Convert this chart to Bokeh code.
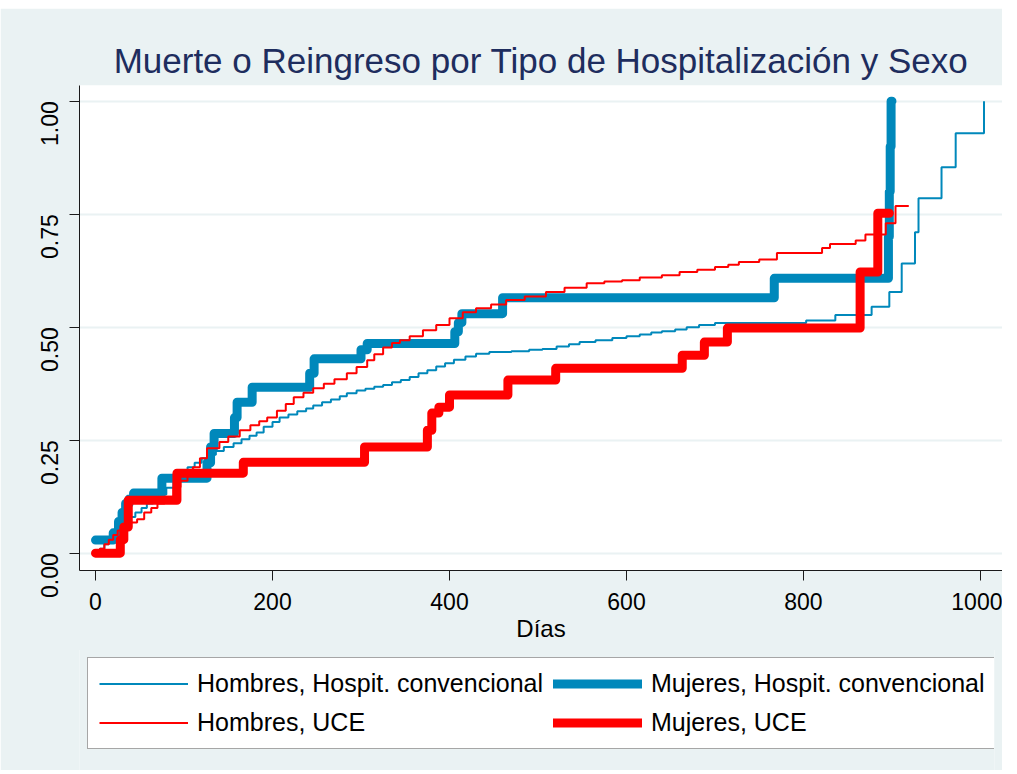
import math
from bokeh.plotting import figure
from bokeh.layouts import column
from bokeh.models import Range1d, FixedTicker, NumeralTickFormatter, Legend, LegendItem
from bokeh.embed import file_html
from bokeh.resources import INLINE

# ---------------- data ----------------
title_text = "Muerte o Reingreso por Tipo de Hospitalización y Sexo"
x_label = "Días"
x_ticks = [0, 200, 400, 600, 800, 1000]
y_ticks = [0.0, 0.25, 0.5, 0.75, 1.0]

labels = ["Hombres, Hospit. convencional", "Hombres, UCE",
          "Mujeres, Hospit. convencional", "Mujeres, UCE"]

# Hombres, Hospit. convencional (thin blue)
hhc_days = [0, 5, 10, 15, 20, 25, 30, 35, 40, 45, 52, 58, 65, 72, 80, 88, 96, 104,
            112, 120, 128, 136, 145, 156, 165, 174, 182, 190, 200, 208, 218, 228,
            238, 246, 256, 266, 276, 284, 295, 305, 315, 325, 335, 345, 355, 365,
            375, 385, 395, 405, 418, 430, 445, 470, 490, 505, 521, 535, 547, 565,
            584, 600, 615, 628, 640, 655, 668, 682, 700, 803, 836, 877, 897, 911,
            926, 930, 956, 972, 1004]
hhc_vals = [0.0, 0.01, 0.02, 0.03, 0.04, 0.05, 0.06, 0.07, 0.08, 0.09, 0.10, 0.11,
            0.12, 0.13, 0.145, 0.16, 0.175, 0.19, 0.20, 0.21, 0.218, 0.226, 0.235,
            0.243, 0.252, 0.26, 0.267, 0.28, 0.29, 0.30, 0.307, 0.314, 0.32, 0.327,
            0.334, 0.34, 0.347, 0.354, 0.36, 0.364, 0.368, 0.372, 0.378, 0.383,
            0.39, 0.398, 0.405, 0.413, 0.42, 0.428, 0.435, 0.441, 0.445, 0.447,
            0.45, 0.452, 0.457, 0.462, 0.467, 0.471, 0.476, 0.48, 0.484, 0.488,
            0.491, 0.495, 0.50, 0.505, 0.509, 0.515, 0.527, 0.545, 0.578, 0.641,
            0.71, 0.785, 0.854, 0.929, 1.0]

# Hombres, UCE (thin red)
huce_days = [0, 5, 10, 15, 20, 25, 32, 40, 47, 55, 63, 70, 78, 88, 96, 104, 110,
             118, 126, 140, 150, 163, 175, 185, 194, 205, 215, 224, 235, 246, 258,
             270, 284, 295, 307, 315, 325, 335, 344, 355, 370, 385, 400, 415, 430,
             447, 464, 485, 509, 530, 555, 575, 595, 615, 640, 660, 680, 700, 715,
             727, 750, 770, 821, 830, 859, 870, 893, 904, 919]
huce_vals = [0.0, 0.01, 0.02, 0.03, 0.04, 0.05, 0.06, 0.068, 0.075, 0.09, 0.10,
             0.11, 0.125, 0.146, 0.16, 0.178, 0.19, 0.21, 0.232, 0.246, 0.258,
             0.272, 0.283, 0.292, 0.30, 0.315, 0.33, 0.345, 0.355, 0.365, 0.375,
             0.385, 0.398, 0.412, 0.427, 0.44, 0.455, 0.465, 0.471, 0.48, 0.493,
             0.505, 0.52, 0.533, 0.542, 0.55, 0.56, 0.568, 0.578, 0.587, 0.597,
             0.601, 0.604, 0.61, 0.615, 0.622, 0.627, 0.633, 0.638, 0.644, 0.65,
             0.664, 0.675, 0.684, 0.692, 0.705, 0.73, 0.768, 0.768]

# Mujeres, Hospit. convencional (thick blue)
mhc_days = [0, 20, 26, 30, 34, 38, 43, 75, 126, 130, 134, 157, 160, 177, 242, 247,
            300, 307, 406, 410, 414, 460, 767, 896, 897, 898, 899, 900]
mhc_vals = [0.029, 0.045, 0.07, 0.09, 0.11, 0.12, 0.133, 0.166, 0.20, 0.235, 0.265,
            0.30, 0.334, 0.367, 0.398, 0.43, 0.45, 0.464, 0.49, 0.51, 0.53, 0.565,
            0.608, 0.70, 0.80, 0.90, 1.0, 1.0]

# Mujeres, UCE (thick red)
muce_days = [0, 28, 32, 37, 92, 167, 304, 375, 380, 388, 400, 466, 520, 663, 688,
             714, 864, 884, 897]
muce_vals = [0.0, 0.03, 0.058, 0.117, 0.177, 0.201, 0.235, 0.272, 0.31, 0.323, 0.35,
             0.383, 0.409, 0.438, 0.467, 0.498, 0.622, 0.752, 0.752]

# ---------------- styling ----------------
BLUE = "#0088BB"
RED = "#FF0000"
BG = "#EAF2F3"
FONT = "Liberation Sans"
THIN = dict(line_width=2)
THICK = dict(line_width=9, line_join="round", line_cap="round")

p = figure(frame_width=923, frame_height=485,
           min_border_left=71, min_border_right=8, min_border_top=77,
           min_border_bottom=80,
           x_range=Range1d(-18.1, 1024.9), y_range=Range1d(-0.0383, 1.0347),
           output_backend="svg", toolbar_location=None,
           border_fill_color=BG, background_fill_color="white",
           outline_line_color=None)
p.margin = (8, 0, 0, 0)

p.title.text = title_text
p.title.align = "center"
p.title.text_font = FONT
p.title.text_font_size = "35px"
p.title.text_font_style = "normal"
p.title.text_color = "#1E2D5E"
p.title.standoff = 12

p.step(mhc_days, mhc_vals, mode="after", line_color=BLUE, **THICK)
p.step(hhc_days, hhc_vals, mode="after", line_color=BLUE, **THIN)
p.step(huce_days, huce_vals, mode="after", line_color=RED, **THIN)
p.step(muce_days, muce_vals, mode="after", line_color=RED, **THICK)

# axes
for ax in (p.xaxis[0], p.yaxis[0]):
    ax.axis_line_color = "#1a1a1a"
    ax.axis_line_width = 1
    ax.major_tick_line_color = "#1a1a1a"
    ax.major_tick_out = 10
    ax.major_tick_in = 0
    ax.minor_tick_line_color = None
    ax.major_label_text_font = FONT
    ax.major_label_text_font_size = "23px"
    ax.major_label_text_color = "black"

p.xaxis.ticker = FixedTicker(ticks=x_ticks)
p.xaxis.major_label_standoff = 12
p.xaxis.axis_label = x_label
p.xaxis.axis_label_text_font = FONT
p.xaxis.axis_label_text_font_size = "24px"
p.xaxis.axis_label_text_font_style = "normal"
p.xaxis.axis_label_text_color = "black"
p.xaxis.axis_label_standoff = 2

p.yaxis.ticker = FixedTicker(ticks=y_ticks)
p.yaxis.formatter = NumeralTickFormatter(format="0.00")
p.yaxis.major_label_orientation = math.pi / 2
p.yaxis.major_label_standoff = 20

p.xgrid.grid_line_color = None
p.ygrid.ticker = FixedTicker(ticks=y_ticks)
p.ygrid.grid_line_color = BG
p.ygrid.grid_line_width = 2

# ---------------- legend strip (second figure, same background) ----------------
# the series are repeated here only so the legend can draw their line styles;
# this figure's x range lies beyond the data, so nothing but the legend shows.
pl = figure(width=1002, height=121, min_border_left=79, min_border_top=0,
            min_border_right=8, min_border_bottom=0,
            x_range=Range1d(5000, 6000), y_range=Range1d(0, 1),
            x_axis_type=None, y_axis_type=None,
            output_backend="svg", toolbar_location=None,
            border_fill_color=BG, background_fill_color=BG,
            outline_line_color=None)
pl.margin = (-1, 0, 0, 0)
pl.xgrid.grid_line_color = None
pl.ygrid.grid_line_color = None

lg_hhc = pl.step(hhc_days, hhc_vals, mode="after", line_color=BLUE, **THIN)
lg_huce = pl.step(huce_days, huce_vals, mode="after", line_color=RED, **THIN)
lg_mhc = pl.step(mhc_days, mhc_vals, mode="after", line_color=BLUE, **THICK)
lg_muce = pl.step(muce_days, muce_vals, mode="after", line_color=RED, **THICK)

legend = Legend(items=[LegendItem(label=labels[0], renderers=[lg_hhc]),
                       LegendItem(label=labels[1], renderers=[lg_huce]),
                       LegendItem(label=labels[2], renderers=[lg_mhc]),
                       LegendItem(label=labels[3], renderers=[lg_muce])],
                location="top_left", orientation="vertical", ncols=2,
                label_text_font=FONT, label_text_font_size="25px",
                label_text_color="black",
                glyph_width=89, glyph_height=25, label_height=25,
                label_standoff=9, spacing=10, padding=11, margin=8,
                border_line_color="#4D4D4D", border_line_width=1,
                background_fill_color="white", background_fill_alpha=1.0)
pl.add_layout(legend, "center")

layout = column(p, pl, spacing=0)
open("out.html", "w").write(file_html(layout, INLINE))
